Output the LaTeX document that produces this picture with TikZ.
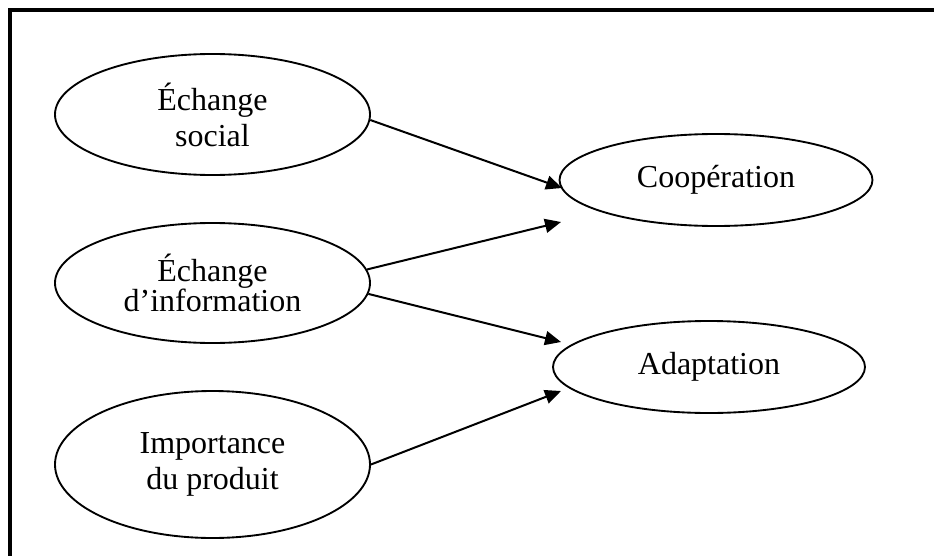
\documentclass[tikz,border=0pt]{standalone}
\usepackage{fontspec}
\setmainfont{Liberation Serif}
\usetikzlibrary{shapes.geometric,arrows.meta}
\begin{document}
\begin{tikzpicture}[x=0.75pt,y=-0.75pt,
  ell/.style={ellipse,draw,line width=1.4pt,inner sep=0pt,align=center,
    font=\fontsize{24pt}{27pt}\selectfont},
  arr/.style={line width=1.5pt,-{Triangle[length=12pt,width=10.5pt]}}]
\useasboundingbox (0,0) rectangle (934,556);
\draw[line width=3pt] (9.5,600) -- (9.5,10) -- (960,10);
\node[ell,minimum width=236.25pt,minimum height=90.75pt] (e1) at (212.5,114.5) {Échange\\social};
\node[ell,minimum width=236.25pt,minimum height=90pt,
  font=\fontsize{24pt}{21.75pt}\selectfont] (e2) at (212.5,283) {Échange\\d’information};
\node[ell,minimum width=236.25pt,minimum height=110.25pt] (e3) at (212.5,464.5) {Importance\\du produit};
\node[ell,minimum width=234.75pt,minimum height=69pt] (c) at (716,180) {Coopération};
\node[ell,minimum width=234pt,minimum height=69pt] (a) at (709,367) {Adaptation};
\coordinate (t1) at (562,188);
\coordinate (t2) at (561,222);
\coordinate (t3) at (561,342);
\coordinate (t4) at (561,391);
\draw[arr] (e1.-2) -- (t1);
\draw[arr] (e2.5) -- (t2);
\draw[arr] (e2.-4.5) -- (t3);
\draw[arr] (e3.0) -- (t4);
\end{tikzpicture}
\end{document}
